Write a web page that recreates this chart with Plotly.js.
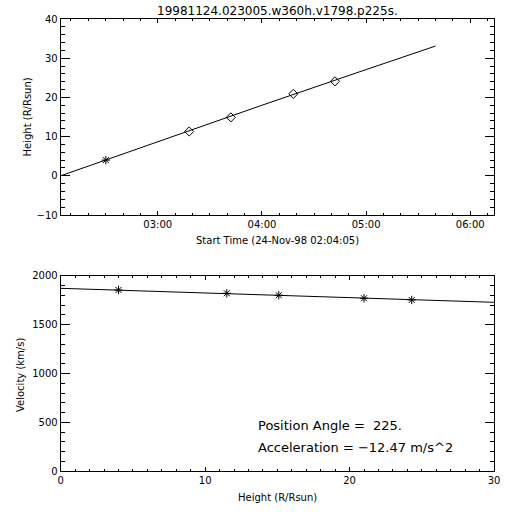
<!DOCTYPE html>
<html>
<head>
<meta charset="utf-8">
<script src="https://cdn.plot.ly/plotly-3.0.1.min.js"></script>
<style>html,body{margin:0;padding:0;background:#fff;}#chart{width:512px;height:512px;}</style>
</head>
<body>
<div id="chart"></div>
<script>
// ---- data ----
const chartTitle = '19981124.023005.w360h.v1798.p225s.';
const startTime = '1998-11-24 02:04:05';
const endTime = '1998-11-24 06:13:40';
const obsTimes = ['1998-11-24 02:30:05', '1998-11-24 03:18:05', '1998-11-24 03:42:05', '1998-11-24 04:18:05', '1998-11-24 04:42:05'];
const obsHeights = [4.0, 11.3, 14.9, 20.9, 24.1];
const fitTimes = ['1998-11-24 02:04:05', '1998-11-24 03:00:00', '1998-11-24 04:00:00', '1998-11-24 05:00:00', '1998-11-24 05:40:00'];
const fitHeights = [0.0, 8.7, 18.0, 27.1, 33.1];
const velHeights = [4.0, 11.5, 15.1, 21.0, 24.3];
const velValues = [1854, 1820, 1800, 1769, 1752];
const velFitHeights = [0, 10, 20, 30];
const velFitValues = [1871, 1823, 1777, 1728];
const timeTickVals = ['1998-11-24 03:00', '1998-11-24 04:00', '1998-11-24 05:00', '1998-11-24 06:00'];
const timeTickText = ['03:00', '04:00', '05:00', '06:00'];
const topXTitle = 'Start Time (24-Nov-98 02:04:05)';
const topYTitle = 'Height (R/Rsun)';
const botXTitle = 'Height (R/Rsun)';
const botYTitle = 'Velocity (km/s)';
const positionAngle = '225.';
const acceleration = '\u221212.47';

// ---- layout geometry (pixels in a 512 canvas) ----
const W = 512, H = 512;
const px = v => v / W, py = v => 1 - v / H;
const FONT = 'DejaVu Sans, sans-serif';

const starIdx = 0;
const traces = [
  {x: fitTimes, y: fitHeights, mode: 'lines', line: {color: '#000', width: 1}, xaxis: 'x', yaxis: 'y'},
  {x: obsTimes.filter((_, i) => i === starIdx), y: obsHeights.filter((_, i) => i === starIdx), mode: 'markers',
   marker: {symbol: 'asterisk-open', size: 7, color: '#000', line: {color: '#000', width: 1}}, xaxis: 'x', yaxis: 'y'},
  {x: obsTimes.filter((_, i) => i !== starIdx), y: obsHeights.filter((_, i) => i !== starIdx), mode: 'markers',
   marker: {symbol: 'diamond-open', size: 7, color: '#000', line: {color: '#000', width: 1}}, xaxis: 'x', yaxis: 'y'},
  {x: velFitHeights, y: velFitValues, mode: 'lines', line: {color: '#000', width: 1}, xaxis: 'x2', yaxis: 'y2'},
  {x: velHeights, y: velValues, mode: 'markers',
   marker: {symbol: 'asterisk-open', size: 7, color: '#000', line: {color: '#000', width: 1}}, xaxis: 'x2', yaxis: 'y2'}
];

const axBase = {
  showline: true, linecolor: '#000', linewidth: 1, mirror: 'ticks', ticks: 'inside',
  tickcolor: '#000', tickwidth: 1, showgrid: false, zeroline: false,
  tickfont: {family: FONT, size: 10, color: '#000'}
};

const layout = {
  width: W, height: H, showlegend: false,
  paper_bgcolor: '#fff', plot_bgcolor: '#fff',
  margin: {l: 0, r: 0, t: 0, b: 0, pad: 0},
  xaxis: Object.assign({}, axBase, {
    type: 'date', domain: [px(60.7), px(494)], anchor: 'y', range: [startTime, endTime],
    tickvals: timeTickVals, ticktext: timeTickText, ticklen: 4,
    minor: {dtick: 600000, tick0: '1998-11-24 03:00', ticks: 'inside', ticklen: 2, tickcolor: '#000', showgrid: false}
  }),
  yaxis: Object.assign({}, axBase, {
    domain: [py(215), py(19)], anchor: 'x', range: [-10, 40], dtick: 10, tick0: 0, ticklen: 9,
    minor: {dtick: 2, ticks: 'inside', ticklen: 4.5, tickcolor: '#000', showgrid: false}
  }),
  xaxis2: Object.assign({}, axBase, {
    domain: [px(60.7), px(494)], anchor: 'y2', range: [0, 30], dtick: 10, tick0: 0, ticklen: 4,
    minor: {dtick: 1, ticks: 'inside', ticklen: 2, tickcolor: '#000', showgrid: false}
  }),
  yaxis2: Object.assign({}, axBase, {
    domain: [py(471.3), py(275.7)], anchor: 'x2', range: [0, 2000], dtick: 500, tick0: 0, ticklen: 9,
    minor: {dtick: 100, ticks: 'inside', ticklen: 4.5, tickcolor: '#000', showgrid: false}
  }),
  annotations: [
    {text: chartTitle, xref: 'paper', yref: 'paper', x: (px(60.7) + px(494)) / 2, y: py(11), xanchor: 'center', yanchor: 'middle', showarrow: false, font: {family: FONT, size: 12, color: '#000'}},
    {text: topXTitle, xref: 'paper', yref: 'paper', x: (px(60.7) + px(494)) / 2, y: py(240), xanchor: 'center', yanchor: 'middle', showarrow: false, font: {family: FONT, size: 10, color: '#000'}},
    {text: topYTitle, xref: 'paper', yref: 'paper', x: px(26.5), y: py(117), xanchor: 'center', yanchor: 'middle', textangle: -90, showarrow: false, font: {family: FONT, size: 10, color: '#000'}},
    {text: botXTitle, xref: 'paper', yref: 'paper', x: (px(60.7) + px(494)) / 2, y: py(497), xanchor: 'center', yanchor: 'middle', showarrow: false, font: {family: FONT, size: 10, color: '#000'}},
    {text: botYTitle, xref: 'paper', yref: 'paper', x: px(20), y: py(375), xanchor: 'center', yanchor: 'middle', textangle: -90, showarrow: false, font: {family: FONT, size: 10, color: '#000'}},
    {text: 'Position Angle =\u00a0\u00a0' + positionAngle, xref: 'x2', yref: 'y2', x: 13.5, y: 473, xanchor: 'left', yanchor: 'middle', showarrow: false, font: {family: FONT, size: 13, color: '#000'}},
    {text: 'Acceleration = ' + acceleration + ' m/s^2', xref: 'x2', yref: 'y2', x: 13.5, y: 244, xanchor: 'left', yanchor: 'middle', showarrow: false, font: {family: FONT, size: 13, color: '#000'}}
  ]
};

Plotly.newPlot('chart', traces, layout, {
  displaylogo: false,
  modeBarButtonsToRemove: ['toImage', 'zoom2d', 'pan2d', 'select2d', 'lasso2d', 'zoomIn2d', 'zoomOut2d', 'autoScale2d', 'resetScale2d']
});
</script>
</body>
</html>
